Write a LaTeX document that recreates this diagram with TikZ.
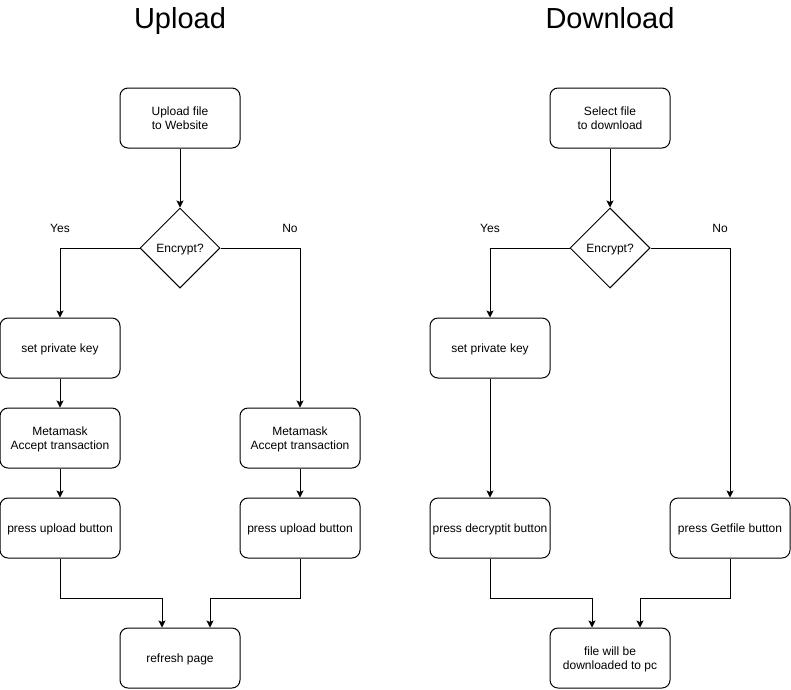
\documentclass[tikz,border=0pt]{standalone}
\usepackage{fontspec}
\setmainfont{Liberation Sans}
\usetikzlibrary{arrows.meta,shapes.geometric}
\begin{document}
\begin{tikzpicture}[x=1pt,y=-1pt,
  box/.style={draw,line width=1pt,rounded corners=8pt,minimum width=120pt,minimum height=60pt,inner sep=0pt,align=center,text depth=0pt,font=\fontsize{12}{14}\selectfont},
  dia/.style={draw,line width=1pt,diamond,minimum width=80pt,minimum height=80pt,inner sep=0pt,text depth=0pt,font=\fontsize{12}{14}\selectfont},
  lbl/.style={font=\fontsize{12}{14}\selectfont,inner sep=0pt,text depth=0pt},
  ttl/.style={font=\fontsize{29}{34}\selectfont,inner sep=0pt,anchor=base},
  arr/.style={line width=1pt,-{Stealth[length=7pt,width=7pt,inset=1.5pt]}}]
\useasboundingbox (0,0) rectangle (791,689);
% Upload
\node[ttl] (t1) at (180,28) {Upload};
\node[box] (a1) at (180,118) {Upload file\\to Website};
\node[dia] (d1) at (180,248) {Encrypt?};
\node[lbl] (y1) at (60,228) {Yes};
\node[lbl] (n1) at (290,228) {No};
\node[box] (k1) at (60,348) {set private key};
\node[box] (m1) at (60,438) {Metamask\\Accept transaction};
\node[box] (p1) at (60,528) {press upload button};
\node[box] (m2) at (300,438) {Metamask\\Accept transaction};
\node[box] (p2) at (300,528) {press upload button};
\node[box] (r1) at (180,658) {refresh page};
\draw[arr] (a1) -- (d1);
\draw[arr] (d1.west) -| (k1.north);
\draw[arr] (d1.east) -| (m2.north);
\draw[arr] (k1) -- (m1);
\draw[arr] (m1) -- (p1);
\draw[arr] (m2) -- (p2);
\draw[arr] (p1.south) -- ++(0,40) -| ([xshift=-18pt]r1.north);
\draw[arr] (p2.south) -- ++(0,40) -| ([xshift=30pt]r1.north);
% Download
\node[ttl] (t2) at (610,28) {Download};
\node[box] (a2) at (610,118) {Select file\\to download};
\node[dia] (d2) at (610,248) {Encrypt?};
\node[lbl] (y2) at (490,228) {Yes};
\node[lbl] (n2) at (720,228) {No};
\node[box] (k2) at (490,348) {set private key};
\node[box] (q1) at (490,528) {press decryptit button};
\node[box] (q2) at (730,528) {press Getfile button};
\node[box] (f1) at (610,658) {file will be\\downloaded to pc};
\draw[arr] (a2) -- (d2);
\draw[arr] (d2.west) -| (k2.north);
\draw[arr] (d2.east) -| (q2.north);
\draw[arr] (k2) -- (q1);
\draw[arr] (q1.south) -- ++(0,40) -| ([xshift=-18pt]f1.north);
\draw[arr] (q2.south) -- ++(0,40) -| ([xshift=30pt]f1.north);
\end{tikzpicture}
\end{document}
